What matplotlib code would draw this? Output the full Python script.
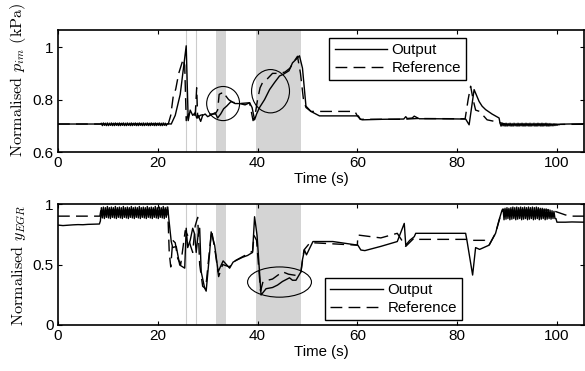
import numpy as np
import matplotlib
matplotlib.use("Agg")
import matplotlib.pyplot as plt
from matplotlib.patches import Ellipse

plt.rcParams['font.family'] = ['Liberation Sans', 'DejaVu Sans']
plt.rcParams['mathtext.fontset'] = 'cm'

# ---- top panel: intake manifold pressure ----
pim_osc1 = [0.710, 0.701, 0.711, 0.702, 0.710, 0.701, 0.711, 0.701, 0.710, 0.702,
            0.711, 0.701, 0.710, 0.701, 0.711, 0.702, 0.710, 0.701, 0.711, 0.701,
            0.710, 0.702, 0.711, 0.701, 0.710, 0.701, 0.711, 0.702, 0.710, 0.701,
            0.711, 0.701, 0.710, 0.702, 0.711, 0.701, 0.710, 0.701, 0.711, 0.702,
            0.710, 0.701, 0.711, 0.701, 0.710, 0.702, 0.711, 0.701, 0.710, 0.701,
            0.711, 0.702, 0.710, 0.701, 0.711, 0.701, 0.710, 0.702, 0.711, 0.701,
            0.710, 0.701, 0.711, 0.702, 0.710, 0.701, 0.708]
pim_osc2 = [0.710, 0.699, 0.710, 0.700, 0.709, 0.699, 0.710, 0.699, 0.709, 0.700,
            0.710, 0.699, 0.709, 0.699, 0.710, 0.700, 0.709, 0.699, 0.710, 0.699,
            0.709, 0.700, 0.710, 0.699, 0.709, 0.699, 0.710, 0.700, 0.709, 0.699,
            0.710, 0.699, 0.709, 0.700, 0.710, 0.699, 0.709, 0.699, 0.710, 0.700,
            0.709, 0.699, 0.710, 0.699, 0.709, 0.700, 0.710, 0.699, 0.709, 0.699,
            0.709, 0.700, 0.708, 0.700, 0.708, 0.701, 0.707, 0.702, 0.706, 0.704]

pim_out_t1 = [0, 4, 8.5]
pim_out_y1 = [0.707, 0.707, 0.707]
pim_out_t2 = [22.7, 23.5, 24.5, 25.7, 26.1, 26.5, 27.0, 27.5, 27.8, 28.1, 28.6, 29.0,
              29.5, 30.0, 30.5, 31.0, 31.5, 32.0, 32.6, 33.2, 33.8, 34.7, 35.5, 36.4,
              37.5, 38.4, 38.9, 39.4, 39.8, 40.4, 41.4, 42.4, 43.4, 44.4, 45.2, 45.7,
              46.3, 47.0, 47.8, 48.4, 49.0, 49.7, 50.7, 52.4, 56.0, 60.2, 60.6, 61.0,
              65.0, 69.3, 69.7, 70.0, 71.0, 71.4, 72.4, 76.0, 81.7, 82.4, 83.4, 83.8,
              84.4, 85.0, 85.7, 87.0, 88.4]
pim_out_y2 = [0.707, 0.74, 0.82, 1.005, 0.72, 0.76, 0.74, 0.75, 0.73, 0.74, 0.717, 0.74,
              0.745, 0.735, 0.74, 0.745, 0.75, 0.73, 0.745, 0.765, 0.775, 0.793, 0.785, 0.785,
              0.78, 0.788, 0.77, 0.723, 0.745, 0.77, 0.80, 0.838, 0.865, 0.89, 0.897, 0.903,
              0.91, 0.94, 0.955, 0.967, 0.92, 0.775, 0.755, 0.738, 0.738, 0.738, 0.725, 0.723,
              0.725, 0.726, 0.735, 0.728, 0.73, 0.737, 0.727, 0.727, 0.726, 0.704, 0.838, 0.82,
              0.793, 0.775, 0.762, 0.745, 0.73]
pim_out_t3 = [100.6, 102.0, 105.5]
pim_out_y3 = [0.706, 0.707, 0.708]

pim_ref_t = [0, 22.1, 22.6, 23.1, 23.6, 24.2, 25.1, 25.4, 25.7, 26.2, 27.0, 27.5, 27.8,
             28.0, 28.5, 29.5, 31.5, 32.0, 32.3, 32.8, 33.2, 33.6, 34.2, 35.0, 36.4, 38.4,
             39.1, 39.5, 40.0, 40.5, 41.0, 42.0, 43.0, 44.5, 45.5, 46.5, 47.3, 48.0, 48.6,
             49.2, 49.7, 50.7, 52.4, 59.5, 60.0, 60.6, 69.0, 72.0, 81.6, 82.2, 82.7, 83.2,
             83.7, 84.5, 86.0, 88.0, 90.0, 105.5]
pim_ref_y = [0.707, 0.707, 0.74, 0.813, 0.84, 0.90, 0.955, 0.93, 0.72, 0.75, 0.745, 0.74, 0.845,
             0.73, 0.74, 0.745, 0.745, 0.76, 0.82, 0.825, 0.81, 0.815, 0.80, 0.79, 0.785, 0.788,
             0.72, 0.74, 0.80, 0.845, 0.865, 0.88, 0.90, 0.90, 0.905, 0.92, 0.945, 0.965, 0.90,
             0.80, 0.77, 0.755, 0.755, 0.755, 0.738, 0.725, 0.725, 0.728, 0.727, 0.80, 0.851, 0.80,
             0.76, 0.755, 0.723, 0.715, 0.705, 0.706]

# ---- bottom panel: EGR fraction ----
egr_osc1 = [0.97, 0.885, 0.975, 0.88, 0.97, 0.89, 0.98, 0.885, 0.97, 0.88,
            0.975, 0.89, 0.97, 0.885, 0.98, 0.88, 0.97, 0.89, 0.975, 0.885,
            0.97, 0.88, 0.98, 0.89, 0.97, 0.885, 0.975, 0.88, 0.97, 0.89,
            0.98, 0.885, 0.97, 0.88, 0.975, 0.89, 0.97, 0.885, 0.98, 0.88,
            0.97, 0.89, 0.975, 0.885, 0.97, 0.88, 0.98, 0.89, 0.97, 0.885,
            0.975, 0.88, 0.97, 0.89, 0.98, 0.885, 0.97, 0.88, 0.975, 0.89,
            0.97, 0.885, 0.98, 0.88, 0.97, 0.89, 0.975]
egr_osc2 = [0.96, 0.87, 0.965, 0.875, 0.97, 0.88, 0.965, 0.87, 0.97, 0.875,
            0.975, 0.88, 0.97, 0.87, 0.975, 0.875, 0.97, 0.88, 0.975, 0.87,
            0.97, 0.875, 0.975, 0.88, 0.97, 0.87, 0.975, 0.875, 0.97, 0.88,
            0.975, 0.87, 0.97, 0.875, 0.975, 0.88, 0.97, 0.87, 0.965, 0.875,
            0.965, 0.88, 0.96, 0.87, 0.96, 0.875, 0.955, 0.88, 0.95, 0.875,
            0.945, 0.88, 0.94, 0.88]

egr_out_t1 = [0, 1, 2, 3, 4, 5, 6, 7, 8.3, 8.5]
egr_out_y1 = [0.826, 0.822, 0.825, 0.828, 0.83, 0.829, 0.832, 0.833, 0.835, 0.86]
egr_out_t2 = [22.0, 22.2, 22.7, 23.0, 23.7, 24.4, 25.4, 25.7, 26.0, 26.5, 27.0, 27.4,
              27.7, 28.1, 28.4, 28.7, 29.4, 29.7, 30.4, 30.7, 31.4, 32.1, 33.1, 34.4,
              35.1, 36.0, 37.0, 38.0, 39.0, 39.4, 39.9, 40.7, 41.7, 43.0, 44.0, 45.0,
              46.4, 47.0, 47.7, 48.7, 49.0, 49.4, 49.8, 51.1, 55.1, 60.1, 60.7, 61.5,
              64.7, 68.0, 69.4, 69.7, 70.5, 71.4, 71.7, 81.7, 82.0, 83.1, 83.7, 84.5,
              86.4, 87.7, 88.4, 89.0]
egr_out_y2 = [0.975, 0.884, 0.69, 0.64, 0.65, 0.496, 0.47, 0.80, 0.64, 0.70, 0.80, 0.75,
              0.60, 0.75, 0.80, 0.44, 0.305, 0.28, 0.60, 0.77, 0.66, 0.44, 0.53, 0.47,
              0.52, 0.54, 0.56, 0.575, 0.60, 0.895, 0.74, 0.248, 0.30, 0.31, 0.33, 0.36,
              0.39, 0.37, 0.37, 0.44, 0.54, 0.62, 0.58, 0.69, 0.69, 0.66, 0.62, 0.615,
              0.65, 0.69, 0.84, 0.66, 0.70, 0.73, 0.758, 0.758, 0.69, 0.413, 0.64, 0.625,
              0.66, 0.758, 0.868, 0.95]
egr_out_t3 = [99.8, 100.0, 101.7, 103.0, 105.5]
egr_out_y3 = [0.88, 0.85, 0.85, 0.852, 0.85]

egr_ref_t = [0, 8.4, 8.6, 22.0, 22.3, 22.6, 23.0, 23.5, 24.0, 24.6, 25.5, 26.0, 26.6,
             27.0, 27.5, 28.0, 28.4, 29.0, 29.6, 30.2, 30.8, 31.6, 32.2, 33.0, 34.4, 35.0,
             37.0, 39.0, 39.3, 39.8, 40.6, 41.1, 43.0, 45.0, 46.2, 47.7, 48.7, 49.3, 50.5,
             51.1, 60.0, 60.1, 64.7, 68.0, 69.7, 71.4, 72.0, 82.0, 82.5, 85.5, 86.4, 87.7,
             88.6, 89.2, 98.9, 101.7, 103.0, 105.5]
egr_ref_y = [0.90, 0.90, 0.95, 0.95, 0.60, 0.48, 0.70, 0.68, 0.55, 0.50, 0.78, 0.74, 0.65,
             0.60, 0.82, 0.89, 0.50, 0.32, 0.30, 0.55, 0.78, 0.58, 0.40, 0.50, 0.48, 0.52,
             0.565, 0.61, 0.74, 0.70, 0.28, 0.36, 0.38, 0.44, 0.42, 0.41, 0.44, 0.62, 0.68,
             0.68, 0.66, 0.744, 0.72, 0.758, 0.65, 0.72, 0.708, 0.708, 0.70, 0.70, 0.66, 0.76,
             0.89, 0.95, 0.95, 0.91, 0.90, 0.90]

bands = [(31.7, 33.7), (39.7, 48.8)]
thin_lines = [25.6, 27.7]


def join(parts):
    t = np.concatenate([np.asarray(p[0], float) for p in parts])
    y = np.concatenate([np.asarray(p[1], float) for p in parts])
    return t, y


pim_out_t, pim_out_y = join([(pim_out_t1, pim_out_y1),
                             (np.linspace(8.7, 21.9, len(pim_osc1)), pim_osc1),
                             (pim_out_t2, pim_out_y2),
                             (np.linspace(88.6, 100.4, len(pim_osc2)), pim_osc2),
                             (pim_out_t3, pim_out_y3)])
egr_out_t, egr_out_y = join([(egr_out_t1, egr_out_y1),
                             (np.linspace(8.7, 21.9, len(egr_osc1)), egr_osc1),
                             (egr_out_t2, egr_out_y2),
                             (np.linspace(89.2, 99.6, len(egr_osc2)), egr_osc2),
                             (egr_out_t3, egr_out_y3)])

fig = plt.figure(figsize=(5.85, 3.71), dpi=100)
ax1 = fig.add_axes([0.0991, 0.590, 0.899, 0.329])
ax2 = fig.add_axes([0.0991, 0.124, 0.899, 0.326])

for ax in (ax1, ax2):
    for a, b in bands:
        ax.axvspan(a, b, color='#d4d4d4', lw=0, zorder=0)
    for x in thin_lines:
        ax.axvline(x, color='#cccccc', lw=0.8, zorder=0.5)

dash = (0, (8.5, 4.5))
ax1.plot(pim_out_t, pim_out_y, color='k', lw=1.0, label='Output')
ax1.plot(pim_ref_t, pim_ref_y, color='k', lw=1.0, ls=dash, label='Reference')
ax2.plot(egr_out_t, egr_out_y, color='k', lw=1.0, label='Output')
ax2.plot(egr_ref_t, egr_ref_y, color='k', lw=1.0, ls=dash, label='Reference')

ax1.add_patch(Ellipse((33.1, 0.785), 6.6, 0.13, fill=False, ec='k', lw=0.8))
ax1.add_patch(Ellipse((42.6, 0.832), 7.6, 0.165, fill=False, ec='k', lw=0.8))
ax2.add_patch(Ellipse((44.4, 0.355), 12.8, 0.25, fill=False, ec='k', lw=0.8))

ax1.set_xlim(0, 105.4)
ax1.set_ylim(0.6, 1.065)
ax1.set_yticks([0.6, 0.8, 1.0])
ax1.set_yticklabels(['0.6', '0.8', '1'])
ax2.set_xlim(0, 105.4)
ax2.set_ylim(0, 1.0)
ax2.set_yticks([0, 0.5, 1.0])
ax2.set_yticklabels(['0', '0.5', '1'])

for ax in (ax1, ax2):
    ax.set_xticks([0, 20, 40, 60, 80, 100])
    ax.tick_params(direction='in', length=3, width=0.8, labelsize=11,
                   top=True, right=True, pad=3)
    for s in ax.spines.values():
        s.set_linewidth(1.2)
    ax.set_xlabel('Time (s)', fontsize=10.8, labelpad=1)

ax1.set_ylabel('Normalised $p_{im}$ (kPa)', family='cmr10', fontsize=11.7)
ax2.set_ylabel('Normalised $y_{EGR}$', family='cmr10', fontsize=11.7)
ax1.yaxis.set_label_coords(-0.057, 0.594)
ax2.yaxis.set_label_coords(-0.057, 0.49)

leg_kw = dict(loc='upper left', borderaxespad=0, fancybox=False, framealpha=1,
              edgecolor='k', fontsize=10.8, handlelength=3.5, handletextpad=0.3,
              borderpad=0.35, labelspacing=0.25)
l1 = ax1.legend(bbox_to_anchor=(0.516, 0.934), **leg_kw)
l2 = ax2.legend(bbox_to_anchor=(0.508, 0.388), **leg_kw)
for lg in (l1, l2):
    lg.get_frame().set_linewidth(1.0)

fig.savefig('out.png', dpi=100)
